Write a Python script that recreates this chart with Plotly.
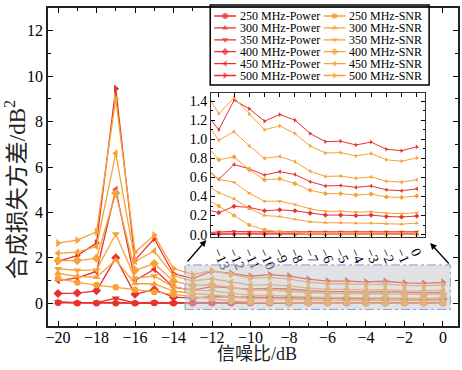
import plotly.graph_objects as go

snr = list(range(-20, 1))

power_250 = [0.02, 0.005, 0.005, 0.005, 0.0, 0.01, 0.0, 0.005, 0.005, 0.005, 0.005, 0.005, 0.005, 0.005, 0.005, 0.005, 0.005, 0.005, 0.005, 0.005, 0.005]
power_300 = [0.05, 0.02, 0.02, 0.04, 0.01, 0.03, 0.01, 0.015, 0.015, 0.015, 0.015, 0.015, 0.015, 0.015, 0.015, 0.015, 0.015, 0.015, 0.015, 0.015, 0.015]
power_350 = [0.06, 0.02, 0.03, 0.22, 0.02, 0.04, 0.02, 0.03, 0.035, 0.03, 0.03, 0.03, 0.03, 0.03, 0.03, 0.03, 0.03, 0.03, 0.03, 0.03, 0.03]
power_400 = [0.43, 0.45, 0.55, 2.0, 0.4, 0.6, 0.27, 0.23, 0.297, 0.285, 0.25, 0.26, 0.25, 0.225, 0.205, 0.205, 0.20, 0.205, 0.19, 0.185, 0.195]
power_450 = [1.0, 1.12, 1.4, 5.0, 1.0, 1.5, 0.71, 0.58, 0.735, 0.69, 0.625, 0.66, 0.63, 0.555, 0.51, 0.515, 0.495, 0.51, 0.47, 0.46, 0.48]
power_500 = [1.85, 2.1, 2.65, 9.45, 1.9, 2.85, 1.3, 1.10, 1.41, 1.32, 1.19, 1.26, 1.20, 1.06, 0.975, 0.98, 0.94, 0.97, 0.895, 0.88, 0.92]

snr_250 = [1.1, 0.92, 0.8, 0.71, 0.6, 0.5, 0.39, 0.30, 0.20, 0.10, 0.05, 0.03, 0.02, 0.01, 0.01, 0.01, 0.005, 0.005, 0.005, 0.005, 0.005]
snr_300 = [1.32, 1.18, 1.15, 1.9, 0.87, 0.85, 0.54, 0.44, 0.375, 0.275, 0.20, 0.19, 0.16, 0.135, 0.125, 0.125, 0.12, 0.12, 0.115, 0.11, 0.12]
snr_350 = [1.52, 1.45, 1.47, 3.05, 1.1, 1.2, 0.71, 0.58, 0.55, 0.435, 0.35, 0.35, 0.315, 0.27, 0.245, 0.245, 0.235, 0.24, 0.225, 0.22, 0.23]
snr_400 = [1.88, 1.88, 1.98, 4.85, 1.45, 1.75, 0.97, 0.785, 0.815, 0.68, 0.575, 0.585, 0.535, 0.465, 0.43, 0.43, 0.415, 0.425, 0.395, 0.39, 0.405]
snr_450 = [2.2, 2.25, 2.5, 6.6, 1.85, 2.3, 1.21, 0.99, 1.08, 0.93, 0.80, 0.82, 0.765, 0.665, 0.61, 0.615, 0.59, 0.605, 0.56, 0.55, 0.575]
snr_500 = [2.65, 2.78, 3.15, 9.0, 2.25, 3.0, 1.53, 1.27, 1.435, 1.265, 1.10, 1.14, 1.06, 0.93, 0.855, 0.86, 0.825, 0.85, 0.785, 0.77, 0.805]

power_names = ["250 MHz-Power", "300 MHz-Power", "350 MHz-Power", "400 MHz-Power", "450 MHz-Power", "500 MHz-Power"]
snr_names = ["250 MHz-SNR", "300 MHz-SNR", "350 MHz-SNR", "400 MHz-SNR", "450 MHz-SNR", "500 MHz-SNR"]
power_series = [power_250, power_300, power_350, power_400, power_450, power_500]
snr_series = [snr_250, snr_300, snr_350, snr_400, snr_450, snr_500]
symbols = ["circle", "triangle-up", "triangle-down", "diamond", "triangle-left", "triangle-right"]

x_title = "信噪比/dB"
y_title = "合成损失方差/dB<sup>2</sup>"

RED = "#E8302E"
ORANGE = "#F6A235"
SERIF = "Liberation Serif"

# plot area in pixels: x 48..460, y 8..326
W, H = 462, 370
L, R, T, B = 48, 2, 8, 44
PW, PH = W - L - R, H - T - B


def px_x(p):
    return (p - L) / PW


def px_y(p):
    return (H - B - p) / PH


fig = go.Figure()

groups = [(power_series, power_names, RED), (snr_series, snr_names, ORANGE)]

for series, names, color in groups:
    for vals, name, sym in zip(series, names, symbols):
        fig.add_trace(go.Scatter(
            x=snr, y=vals, name=name, mode="lines+markers",
            line=dict(color=color, width=1.3),
            marker=dict(symbol=sym, size=7 if sym != "circle" else 6.5, color=color, line=dict(width=0)),
            xaxis="x", yaxis="y", showlegend=False,
        ))

for series, names, color in groups:
    for vals, name, sym in zip(series, names, symbols):
        fig.add_trace(go.Scatter(
            x=snr, y=vals, name=name, mode="lines+markers",
            line=dict(color=color, width=1.0),
            marker=dict(symbol=sym, size=4, color=color, line=dict(width=0)),
            xaxis="x2", yaxis="y2", showlegend=False,
        ))

# manual legend (two columns) on a hidden helper axis, in pixel units
col_x0 = [4, 114]
sample_len = 22
row_y0 = 8
row_pitch = 11.9
annotations = []
for c, (series, names, color) in enumerate(groups):
    for r, (name, sym) in enumerate(zip(names, symbols)):
        yy = row_y0 + r * row_pitch
        x0 = col_x0[c]
        fig.add_trace(go.Scatter(
            x=[x0, x0 + sample_len / 2, x0 + sample_len], y=[yy, yy, yy],
            mode="lines+markers", line=dict(color=color, width=1.3),
            marker=dict(symbol=sym, size=[0, 6, 0], color=color, line=dict(width=0)),
            xaxis="x3", yaxis="y3", showlegend=False, hoverinfo="skip",
        ))
        annotations.append(dict(
            x=x0 + sample_len + 1.5, y=yy, xref="x3", yref="y3", text=name,
            showarrow=False, xanchor="left", yanchor="middle",
            font=dict(family=SERIF, size=12, color="black"),
        ))

# axis titles
annotations.append(dict(
    x=px_x(258), y=px_y(354), xref="paper", yref="paper", text=x_title,
    showarrow=False, xanchor="center", yanchor="middle",
    font=dict(family="Liberation Serif, Noto Sans CJK SC", size=18, color="#222"),
))
annotations.append(dict(
    x=px_x(15), y=px_y(190), xref="paper", yref="paper", text=y_title,
    showarrow=False, xanchor="center", yanchor="middle", textangle=-90,
    font=dict(family="Liberation Serif, Noto Sans CJK SC", size=23, color="#222"),
))

# zoom arrows
annotations.append(dict(
    x=px_x(207), y=px_y(240), xref="paper", yref="paper", text="",
    showarrow=True, arrowhead=2, arrowsize=1, arrowwidth=1.3, arrowcolor="black",
    ax=-20, ay=23,
))
annotations.append(dict(
    x=px_x(432), y=px_y(243), xref="paper", yref="paper", text="",
    showarrow=True, arrowhead=2, arrowsize=1, arrowwidth=1.3, arrowcolor="black",
    ax=20, ay=22,
))

shapes = [
    dict(type="rect", xref="x", yref="y", x0=-13.4, x1=0.38, y0=-0.27, y1=1.69,
         fillcolor="rgba(196,198,204,0.5)", line=dict(color="#8C9AD6", width=1, dash="dashdot"),
         layer="above"),
    dict(type="rect", xref="paper", yref="paper", x0=px_x(211), x1=px_x(431),
         y0=px_y(85), y1=px_y(5), line=dict(color="black", width=1.5), fillcolor="rgba(0,0,0,0)",
         layer="above"),
]

tickfont = dict(family=SERIF, size=16, color="black")
small_font = dict(family=SERIF, size=14, color="black")

fig.update_layout(
    width=W, height=H,
    margin=dict(l=L, r=R, t=T, b=B, pad=0),
    paper_bgcolor="white", plot_bgcolor="white",
    font=dict(family=SERIF, color="black"),
    showlegend=False,
    xaxis=dict(
        domain=[0, 1], anchor="y", range=[-20.52, 0.78],
        tickmode="array", tickvals=list(range(-20, 1, 2)),
        ticks="inside", ticklen=5, tickwidth=1.2, tickcolor="black",
        minor=dict(ticks="inside", ticklen=3, dtick=1, tickcolor="black", tickwidth=1),
        showline=True, linewidth=1.5, linecolor="#222", mirror="allticks",
        showgrid=False, zeroline=False, tickfont=tickfont, ticklabelstandoff=-4,
    ),
    yaxis=dict(
        domain=[0, 1], anchor="x", range=[-1, 13],
        tickmode="array", tickvals=list(range(0, 13, 2)),
        ticks="inside", ticklen=5, tickwidth=1.2, tickcolor="black",
        minor=dict(ticks="inside", ticklen=3, dtick=1, tickcolor="black", tickwidth=1),
        showline=True, linewidth=1.5, linecolor="#222", mirror="allticks",
        showgrid=False, zeroline=False, tickfont=tickfont,
    ),
    xaxis2=dict(
        domain=[px_x(212), px_x(427)], anchor="y2", range=[-13.5, 0.55],
        tickmode="array", tickvals=list(range(-13, 1)), tickangle=65,
        ticks="inside", ticklen=4, tickwidth=1, tickcolor="black",
        showline=True, linewidth=1.3, linecolor="#333", mirror="allticks",
        showgrid=False, zeroline=False, tickfont=small_font,
    ),
    yaxis2=dict(
        domain=[px_y(237), px_y(93)], anchor="x2", range=[-0.025, 1.485],
        tickmode="array", tickvals=[0, 0.2, 0.4, 0.6, 0.8, 1.0, 1.2, 1.4], tickformat=".1f",
        ticks="inside", ticklen=4, tickwidth=1, tickcolor="black",
        minor=dict(ticks="inside", ticklen=2, dtick=0.1, tickcolor="black"),
        showline=True, linewidth=1.3, linecolor="#333", mirror="allticks",
        showgrid=False, zeroline=False, tickfont=small_font,
    ),
    xaxis3=dict(domain=[px_x(211), px_x(431)], anchor="y3", range=[0, 220], visible=False, fixedrange=True),
    yaxis3=dict(domain=[px_y(85), 1.0], anchor="x3", range=[77, 0], visible=False, fixedrange=True),
    annotations=annotations,
    shapes=shapes,
)

fig.write_html("out.html")
